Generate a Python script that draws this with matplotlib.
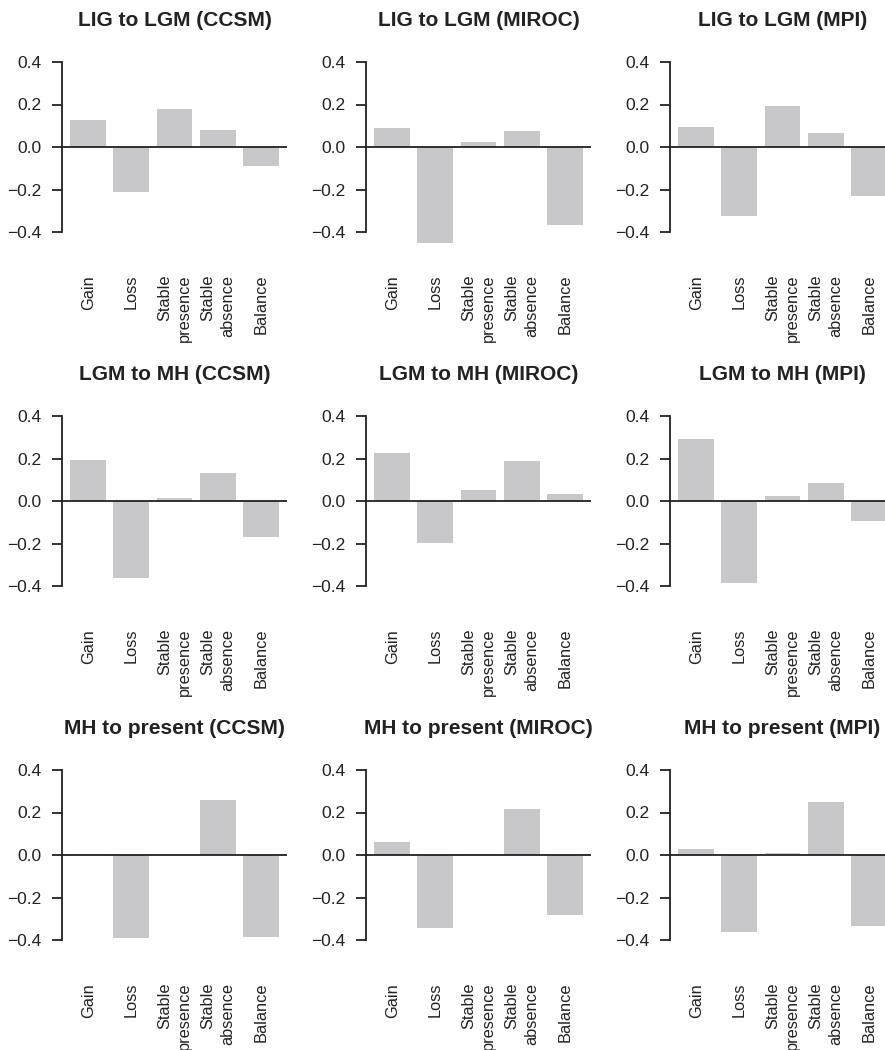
import matplotlib
matplotlib.use("Agg")
import matplotlib.pyplot as plt

plt.rcParams['font.family'] = ['Liberation Sans', 'DejaVu Sans']

categories = ["Gain", "Loss", "Stable\npresence", "Stable\nabsence", "Balance"]
periods = ["LIG to LGM", "LGM to MH", "MH to present"]
models = ["CCSM", "MIROC", "MPI"]

# values, one list per panel
lig_lgm_ccsm = [0.125, -0.212, 0.177, 0.078, -0.089]
lig_lgm_miroc = [0.088, -0.452, 0.022, 0.074, -0.369]
lig_lgm_mpi = [0.093, -0.326, 0.191, 0.064, -0.232]
lgm_mh_ccsm = [0.194, -0.364, 0.014, 0.133, -0.169]
lgm_mh_miroc = [0.228, -0.198, 0.052, 0.190, 0.033]
lgm_mh_mpi = [0.294, -0.387, 0.024, 0.085, -0.093]
mh_pres_ccsm = [0.003, -0.389, 0.001, 0.259, -0.384]
mh_pres_miroc = [0.061, -0.342, 0.005, 0.216, -0.282]
mh_pres_mpi = [0.028, -0.361, 0.009, 0.249, -0.333]

panels = [
    [lig_lgm_ccsm, lig_lgm_miroc, lig_lgm_mpi],
    [lgm_mh_ccsm, lgm_mh_miroc, lgm_mh_mpi],
    [mh_pres_ccsm, mh_pres_miroc, mh_pres_mpi],
]

yticks = [-0.4, -0.2, 0.0, 0.2, 0.4]
ytick_labels = ["\u22120.4", "\u22120.2", "0.0", "0.2", "0.4"]

W, H = 885, 1050
fig = plt.figure(figsize=(W / 100, H / 100), dpi=100)

col_left = [62, 366, 670]     # pixel x of y-axis
row_zero = [147, 501, 855]    # pixel y of zero line
ax_w = 225
ax_h = 212.5                  # ylim -0.5..0.5

# R barplot layout: width 1, space 0.2
centers = [0.7 + 1.2 * i for i in range(len(categories))]
bar_color = "#c8c8ca"
ink = "#222222"

for r in range(3):
    for c in range(3):
        vals = panels[r][c]
        top_px = row_zero[r] - ax_h / 2
        ax = fig.add_axes([col_left[c] / W, 1 - (top_px + ax_h) / H, ax_w / W, ax_h / H])
        ax.bar(centers, vals, width=1.0, color=bar_color, edgecolor="none", zorder=1)
        ax.axhline(0, color=ink, lw=1.3, zorder=2)
        ax.set_xlim(-0.032, 6.232)
        ax.set_ylim(-0.5, 0.5)

        for s in ["top", "right", "bottom"]:
            ax.spines[s].set_visible(False)
        ax.spines["left"].set_bounds(-0.4, 0.4)
        ax.spines["left"].set_color(ink)
        ax.spines["left"].set_linewidth(1.3)

        ax.set_yticks(yticks)
        ax.set_yticklabels(ytick_labels, fontsize=12.5, color=ink)
        ax.tick_params(axis="y", length=7, width=1.3, color=ink, pad=7.5)

        ax.set_xticks(centers)
        ax.set_xticklabels(categories, rotation=90, fontsize=11.8, color=ink,
                           va="top", ha="center", multialignment="right",
                           linespacing=1.45)
        ax.tick_params(axis="x", length=0, pad=15.5)

        ax.text(0.5, 1 + 20.75 / ax_h, f"{periods[r]} ({models[c]})",
                transform=ax.transAxes, ha="center", va="center",
                fontsize=15, fontweight="bold", color=ink)

fig.savefig("out.png", dpi=100)
